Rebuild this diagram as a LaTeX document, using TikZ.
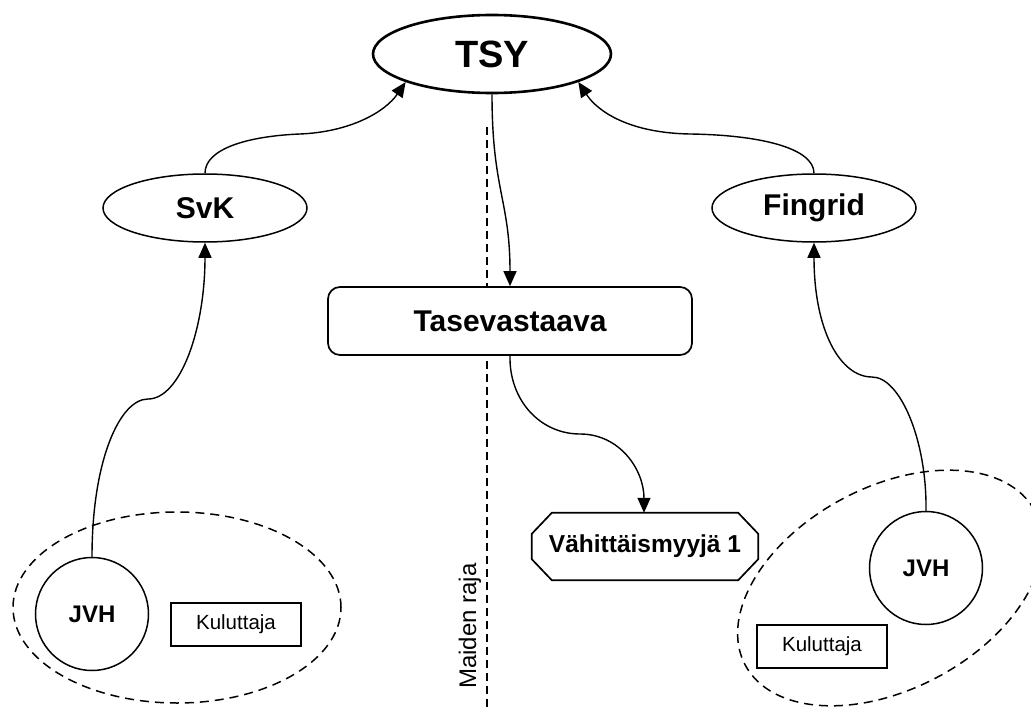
\documentclass[tikz,border=0pt]{standalone}
\usepackage{fontspec}
\setmainfont{Liberation Sans}
\usetikzlibrary{shapes.geometric,arrows.meta}
\begin{document}
\begin{tikzpicture}[x=1pt,y=-1pt,
  conn/.style={line width=1.4pt,-{Triangle[length=15pt,width=13pt]}},
  plain/.style={line width=1.4pt},
  ell/.style={draw,ellipse,line width=1.5pt,inner sep=0pt,fill=white,
    minimum width=204pt,minimum height=68pt,font=\bfseries\fontsize{30}{34}\selectfont},
  jvh/.style={draw,circle,line width=1.5pt,inner sep=0pt,minimum size=113pt,
    font=\bfseries\fontsize{24}{28}\selectfont},
  kul/.style={draw,rectangle,line width=1.5pt,inner sep=0pt,minimum width=130pt,
    minimum height=43pt,font=\fontsize{20.5}{24}\selectfont},
  grp/.style={draw,ellipse,line width=1.5pt,dash pattern=on 9pt off 6pt,inner sep=0pt},
  border/.style={line width=1.5pt,dash pattern=on 8pt off 5pt}
]
\useasboundingbox (0,0) rectangle (1031,709);

% country border
\coordinate (b1) at (487,127);
\coordinate (b2) at (487,709);
\draw[border] (b1) -- (b2);
\node[rotate=90,font=\fontsize{24}{28}\selectfont,inner sep=0pt] (raja) at (470,626) {Maiden raja};

% groups
\node[grp,minimum width=328pt,minimum height=191pt] (g1) at (177,607.5) {};
\node[grp,minimum width=328pt,minimum height=202pt,rotate=28] (g2) at (890,588) {};

% nodes
\node[draw,ellipse,line width=2.6pt,inner sep=0pt,minimum width=238pt,minimum height=78pt,
  font=\bfseries\fontsize{38}{44}\selectfont] (tsy) at (492,54) {TSY};
\node[ell] (svk) at (205,208) {SvK};
\node[ell] (fin) at (814,208) {Fingrid};
\node[draw,rectangle,rounded corners=12pt,line width=1.7pt,fill=white,inner sep=0pt,
  minimum width=364pt,minimum height=68pt,font=\bfseries\fontsize{30}{34}\selectfont]
  (tase) at (510,321) {Tasevastaava};
\node[inner sep=0pt,minimum width=226pt,minimum height=67pt,
  font=\bfseries\fontsize{24.5}{28}\selectfont] (vah) at (645,546.5) {Vähittäismyyjä 1};
\draw[line width=1.7pt] ([xshift=20pt]vah.north west) -- ([xshift=-20pt]vah.north east)
  -- ([yshift=-21pt]vah.north east) -- ([yshift=21pt]vah.south east)
  -- ([xshift=-20pt]vah.south east) -- ([xshift=20pt]vah.south west)
  -- ([yshift=21pt]vah.south west) -- ([yshift=-21pt]vah.north west) -- cycle;
\node[jvh] (jvh1) at (92,614) {JVH};
\node[jvh] (jvh2) at (926,568) {JVH};
\node[kul] (kul1) at (236,624.5) {Kuluttaja};
\node[kul] (kul2) at (822,646.5) {Kuluttaja};

% connectors
\coordinate (k1) at (300,134);
\coordinate (k2) at (690,134);
\coordinate (k3) at (148,399);
\coordinate (k4) at (872,377);
\coordinate (k5) at (580,434);
\draw[plain] (svk.north) .. controls (205,148) and (250,136) .. (k1);
\draw[conn] (k1) .. controls (350,132) and (385,112) .. (tsy.198);
\draw[plain] (fin.north) .. controls (814,148) and (760,135) .. (k2);
\draw[conn] (k2) .. controls (630,133) and (598,112) .. (tsy.342);
\draw[conn] (tsy.south) .. controls (492,190) and (510,200) .. (tase.north);
\draw[plain] (tase.south) .. controls (509,400) and (540,434) .. (k5);
\draw[conn] (k5) .. controls (620,434) and (644,470) .. ([xshift=-1pt]vah.north);
\draw[plain] (jvh1.north) .. controls (92,460) and (120,399) .. (k3);
\draw[conn] (k3) .. controls (180,399) and (205,330) .. (svk.south);
\draw[plain] (jvh2.north) .. controls (927,440) and (900,377) .. (k4);
\draw[conn] (k4) .. controls (840,377) and (814,330) .. (fin.south);
\end{tikzpicture}
\end{document}
